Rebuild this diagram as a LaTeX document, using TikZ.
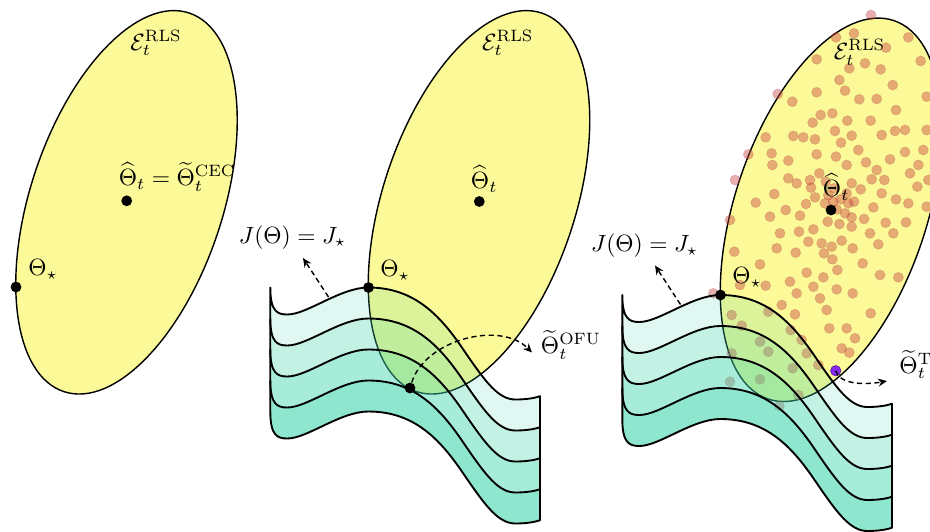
\documentclass[tikz,border=0pt]{standalone}
\usepackage{amsmath}
\usetikzlibrary{arrows.meta}
\definecolor{ellfill}{RGB}{252,250,152}
\definecolor{wteal}{RGB}{60,212,170}
\definecolor{sampcol}{RGB}{200,64,64}
\definecolor{tsviolet}{RGB}{138,43,240}
\newcommand\wavefwd[1]{(0,#1) .. controls (0,24+#1) and (7,27+#1) .. (17,27+#1)
  .. controls (37,27+#1) and (70,#1) .. (98,#1)
  .. controls (145,#1) and (171,29+#1) .. (195,65+#1)
  .. controls (215,94+#1) and (228,112+#1) .. (245,112+#1)
  .. controls (256,112+#1) and (265,110.5+#1) .. (269.7,108.7+#1)}
\newcommand\wavebwd[1]{-- (269.7,108.7+#1) .. controls (265,110.5+#1) and (256,112+#1) .. (245,112+#1)
  .. controls (228,112+#1) and (215,94+#1) .. (195,65+#1)
  .. controls (171,29+#1) and (145,#1) .. (98,#1)
  .. controls (70,#1) and (37,27+#1) .. (17,27+#1)
  .. controls (7,27+#1) and (0,24+#1) .. (0,#1)}
\tikzset{
  ell/.style={draw=black, line width=0.6pt, fill=ellfill},
  dotmark/.style={circle, fill=black, inner sep=0pt, minimum size=4.6pt},
  tsdotmark/.style={circle, fill=tsviolet, draw=tsviolet!70!black, line width=0.3pt, inner sep=0pt, minimum size=4.4pt},
  lab/.style={inner sep=0pt, anchor=base west},
  clab/.style={inner sep=0pt, anchor=center},
  darrow/.style={line width=0.6pt, dash pattern=on 2.2pt off 1.5pt, -{Stealth[length=3.8pt,width=3.4pt]}},
  wline/.style={line width=0.8pt, line join=round},
  bandA/.style={fill=wteal, fill opacity=0.16},
  bandB/.style={fill=wteal, fill opacity=0.31},
  bandC/.style={fill=wteal, fill opacity=0.45},
  bandD/.style={fill=wteal, fill opacity=0.58},
  sample/.style={fill=sampcol, fill opacity=0.42, draw=sampcol!80!black, draw opacity=0.2, line width=0.3pt},
}
\newcommand\drawwave{%
  \fill[bandA] \wavefwd{0} \wavebwd{31} -- cycle;
  \fill[bandB] \wavefwd{31} \wavebwd{62} -- cycle;
  \fill[bandC] \wavefwd{62} \wavebwd{93} -- cycle;
  \fill[bandD] \wavefwd{93} \wavebwd{124} -- cycle;
  \draw[wline] \wavefwd{0} \wavebwd{124} -- cycle;
  \draw[wline] \wavefwd{31};
  \draw[wline] \wavefwd{62};
  \draw[wline] \wavefwd{93};
}
\begin{document}
\begin{tikzpicture}[x=0.4255pt, y=-0.4255pt]
\useasboundingbox (0,0) rectangle (930,531);
\clip (0,0) rectangle (930,531);

% ---------------- panel 1
\coordinate (c1) at (126.5,202.3);
\path[ell, rotate around={71.7:(c1)}] (c1) ellipse [x radius=199.4, y radius=96.2];
\node[dotmark] (hd1) at (126.7,200.8) {};
\node[dotmark] (sd1) at (16,287) {};
\node[lab] (e1) at (130,50) {$\mathcal{E}_t^{\mathrm{RLS}}$};
\node[lab] (h1) at (118.3,185.5) {$\widehat{\Theta}_t = \widetilde{\Theta}_t^{\mathrm{CEC}}$};
\node[lab] (st1) at (28,275.5) {$\Theta_\star$};

% ---------------- panel 2
\coordinate (c2) at (479,202.3);
\path[ell, rotate around={71.7:(c2)}] (c2) ellipse [x radius=199.4, y radius=96.2];
\begin{scope}[shift={(270.3,287.5)}]
  \drawwave
\end{scope}
\node[dotmark] (hd2) at (479.3,201.5) {};
\node[dotmark] (sd2) at (368.5,287.5) {};
\node[dotmark] (ofu) at (410,388) {};
\node[lab] (e2) at (481.7,50) {$\mathcal{E}_t^{\mathrm{RLS}}$};
\node[lab] (h2) at (470.5,188.5) {$\widehat{\Theta}_t$};
\node[lab] (st2) at (380,276.5) {$\Theta_\star$};
\node[clab] (j2) at (292.5,237.5) {$J(\Theta) = J_\star$};
\node[lab] (ofulab) at (540.5,353.5) {$\widetilde{\Theta}_t^{\mathrm{OFU}}$};
\coordinate (j2s) at (328.5,297);
\coordinate (j2e) at (303,258);
\coordinate (ofue) at (532,352.5);
\draw[darrow] (j2s) -- (j2e);
\draw[darrow] (ofu) .. controls (425,340) and (500,320) .. (ofue);

% ---------------- panel 3
\begin{scope}[shift={(352,7.5)}]
  \coordinate (c3) at (479,202.3);
  \path[ell, rotate around={71.7:(c3)}] (c3) ellipse [x radius=199.4, y radius=96.2];
\end{scope}
% samples (coordinates in 1/3 pixel, origin at x=580)
\begin{scope}[shift={(580,0)}, x=0.14183pt, y=-0.14183pt]
  \foreach \px/\py in {873/45,985/112,822/100,768/112,918/143,855/190,902/208,808/205,710/178,1022/183,
    778/240,795/272,938/255,710/277,593/282,637/305,838/298,890/297,948/330,1040/290,
    722/345,757/340,698/368,802/362,872/362,1040/390,975/390,945/393,905/405,815/407,
    765/393,640/408,670/412,705/418,557/412,783/428,835/450,505/463,575/460,625/482,
    710/463,768/470,800/495,858/487,890/510,930/478,975/456,1015/495,577/495,465/540,
    625/535,650/550,693/563,718/520,737/545,815/550,842/568,875/538,913/540,1045/540,
    527/608,583/582,617/630,660/647,678/612,705/592,735/610,782/598,805/610,795/640,
    770/628,743/665,778/672,815/652,852/657,880/622,917/668,948/598,978/667,450/660,
    570/650,657/695,700/688,725/730,755/740,785/722,815/680,463/755,540/793,590/745,
    647/758,685/725,732/760,757/778,818/745,895/733,480/855,557/857,630/845,680/818,
    700/860,730/832,772/810,770/868,818/880,848/790,900/825,955/832,720/895,605/915,
    645/943,565/935,455/945,485/977,540/1025,565/1055,632/990,665/1020,740/930,748/985,
    800/985,825/1015,872/940,785/1045,808/1058,715/1095,680/1060,638/1105,455/1060,450/1145,
    540/1138,655/1185,598/1218,400/880,690/540,762/565,800/580,822/605,745/585,760/605,
    1030/450,1012/560,985/610,1040/620,905/580,940/700,870/700,990/520,650/880,600/700}
    \path[sample] (\px,\py) circle[radius=2.15pt];
\end{scope}
\begin{scope}[shift={(352,7.5)}]
  \begin{scope}[shift={(270.3,287.5)}]
    \drawwave
  \end{scope}
  \node[dotmark] (hd3) at (479,202.5) {};
  \node[dotmark] (sd3) at (368.5,287.5) {};
  \node[tsdotmark] (tsd) at (483.7,363.2) {};
  \node[lab] (e3) at (481.5,52) {$\mathcal{E}_t^{\mathrm{RLS}}$};
  \node[lab] (h3) at (470.5,189) {$\widehat{\Theta}_t$};
  \node[lab] (st3) at (380,276) {$\Theta_\star$};
  \node[clab] (j3) at (292.5,238.5) {$J(\Theta) = J_\star$};
  \node[lab] (tslab) at (547,365.5) {$\widetilde{\Theta}_t^{\mathrm{TS}}$};
  \coordinate (j3s) at (328.5,297);
  \coordinate (j3e) at (303,258);
  \coordinate (tse) at (535,373.5);
  \draw[darrow] (j3s) -- (j3e);
  \draw[darrow] (tsd.center) .. controls (487,376) and (510,378) .. (tse);
\end{scope}
\end{tikzpicture}
\end{document}
